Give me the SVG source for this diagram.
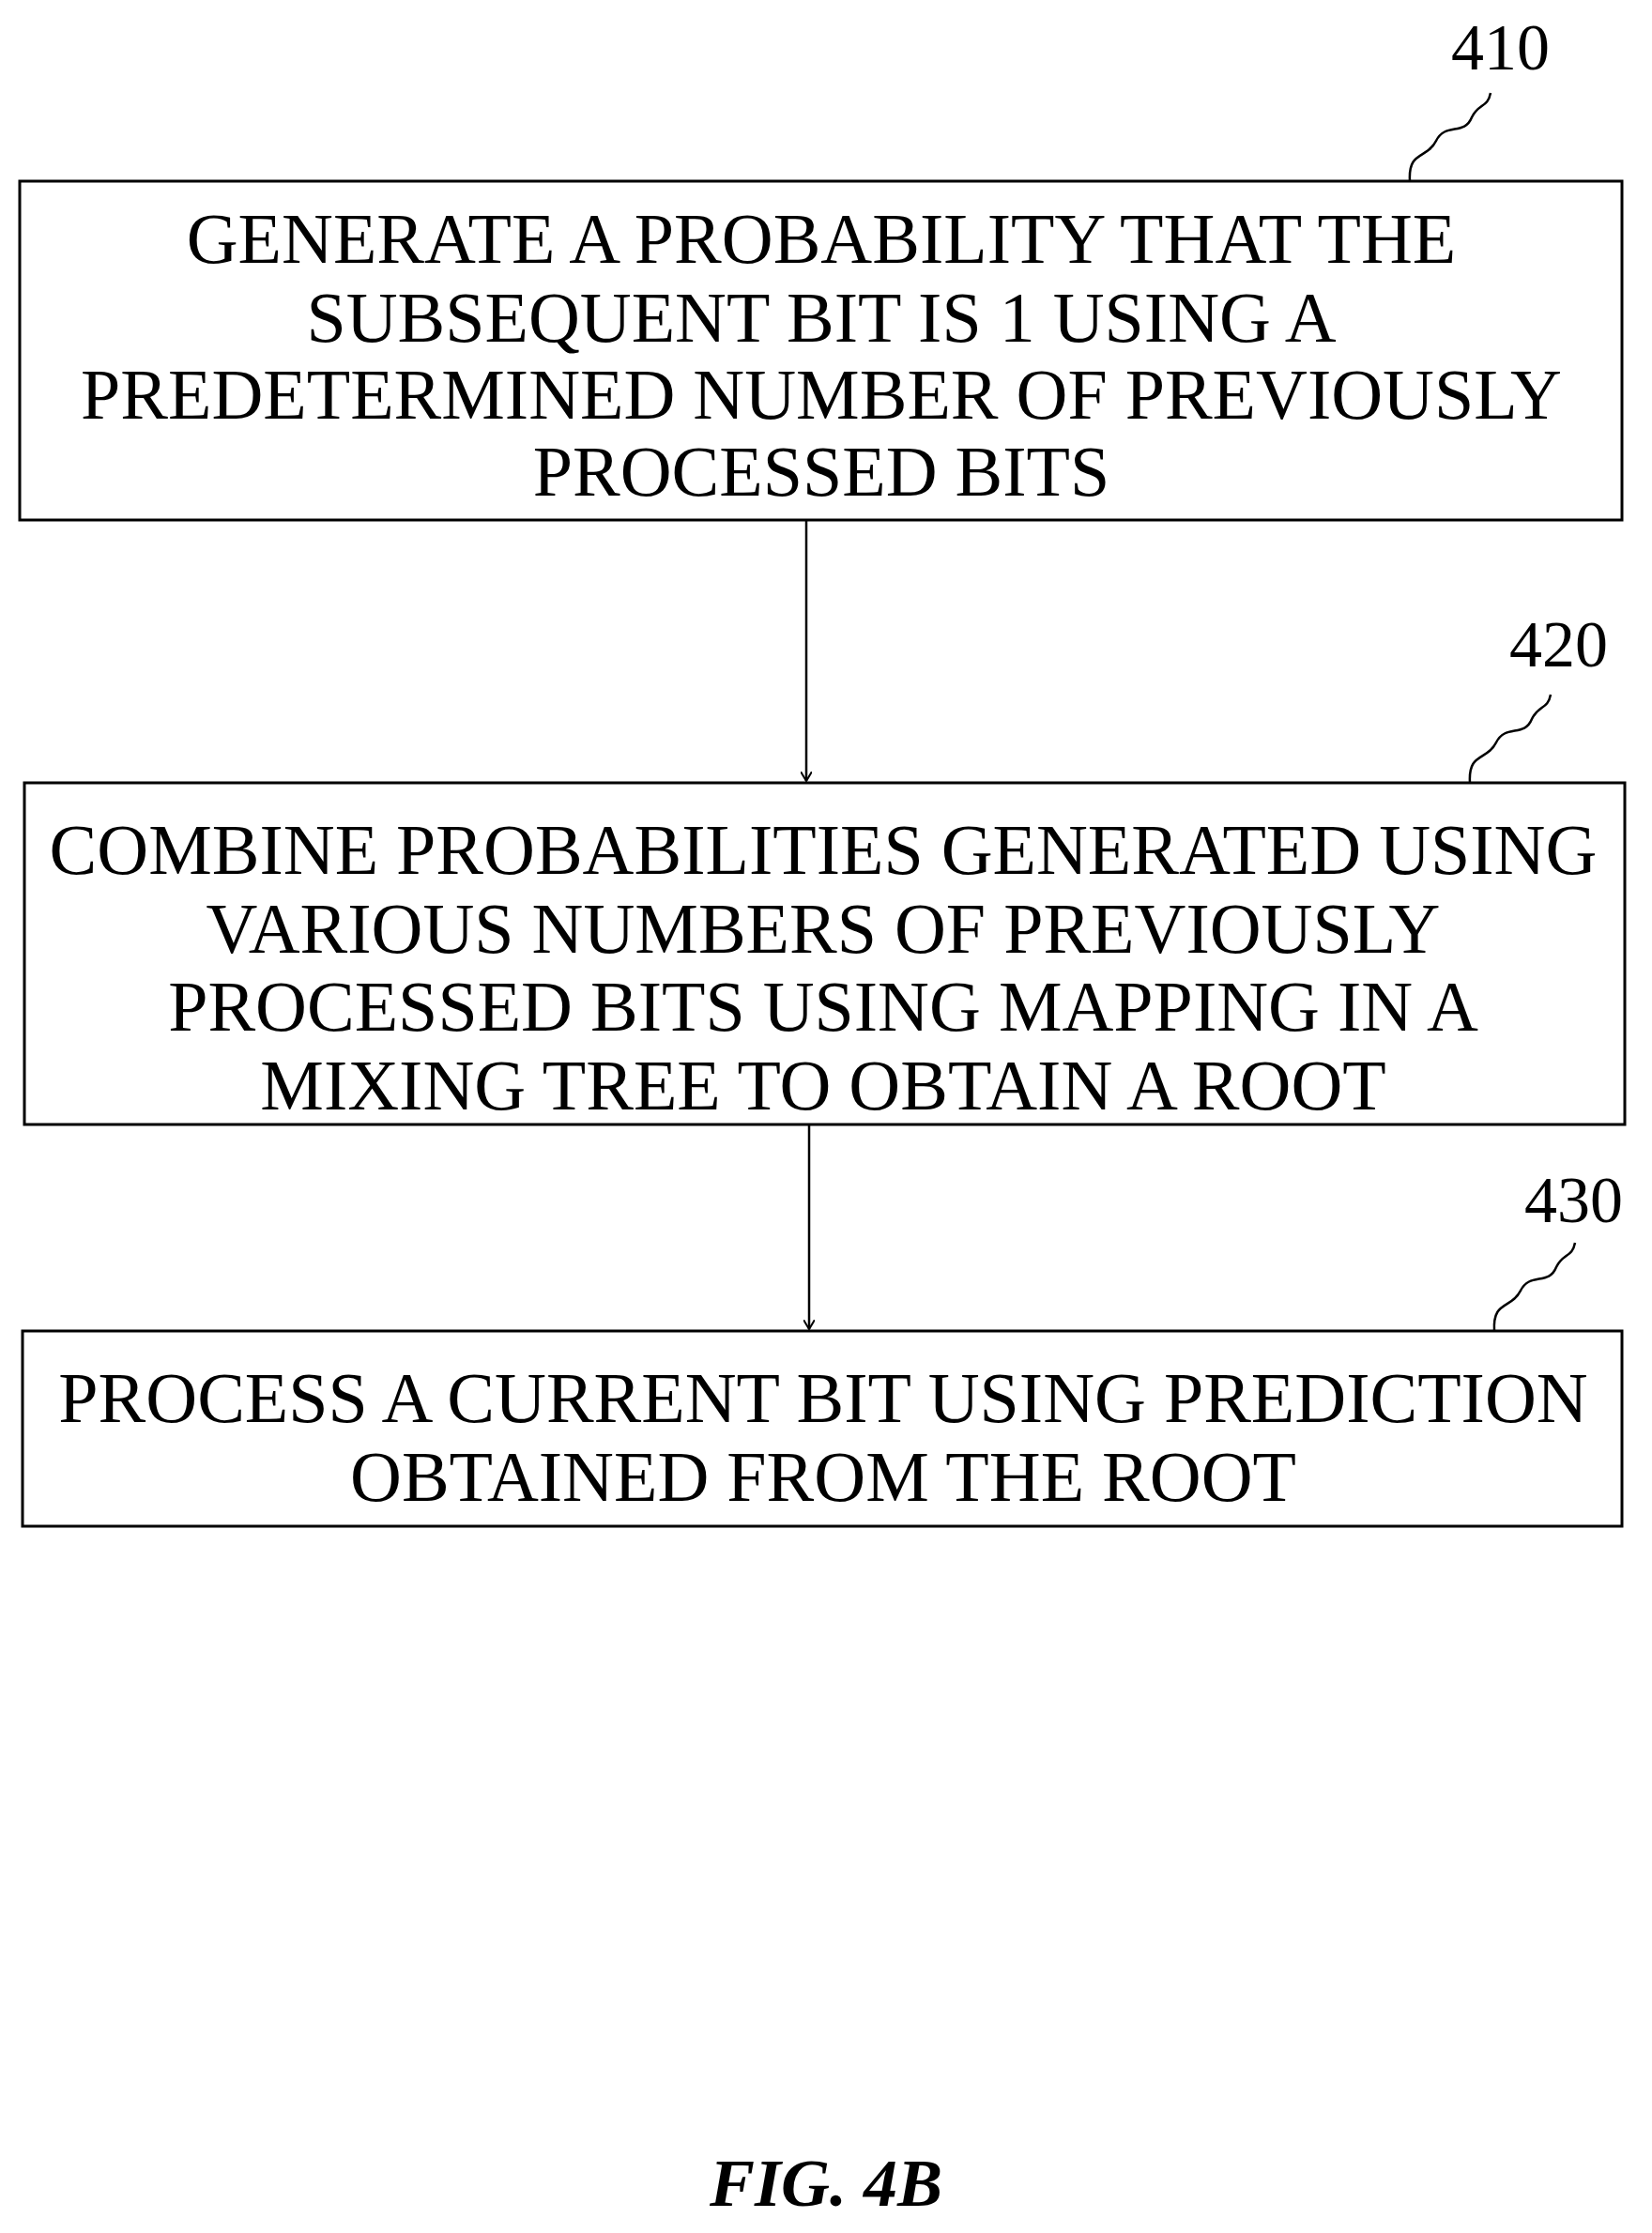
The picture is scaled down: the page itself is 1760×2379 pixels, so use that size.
<svg xmlns="http://www.w3.org/2000/svg" width="1760" height="2379" viewBox="0 0 1760 2379">
<defs>
<style>
.box{fill:none;stroke:#000;stroke-width:3}
.t{font-family:"Liberation Serif",serif;font-size:76px;text-anchor:middle;fill:#000}
.lbl{font-family:"Liberation Serif",serif;font-size:70px;fill:#000}
.c{stroke:#000;stroke-width:2.5;fill:none}
</style>
<marker id="ah" markerWidth="12" markerHeight="12" refX="10" refY="6" orient="auto" markerUnits="userSpaceOnUse">
<path d="M0,0 L10,6 L0,12" fill="none" stroke="#000" stroke-width="2"/>
</marker>
</defs>
<rect width="1760" height="2379" fill="#fff"/>
<g id="n410">
<rect class="box" x="21" y="193" width="1707" height="361"/>
<text class="t" x="875" y="280">GENERATE A PROBABILITY THAT THE</text>
<text class="t" x="875" y="364">SUBSEQUENT BIT IS 1 USING A</text>
<text class="t" x="875" y="446">PREDETERMINED NUMBER OF PREVIOUSLY</text>
<text class="t" x="875" y="528">PROCESSED BITS</text>
<text class="lbl" x="1546" y="74">410</text>
<path class="c" d="M1502,193 C1500,160 1520,170 1530,150 C1540,130 1560,145 1568,125 C1575,110 1585,115 1588,99"/>
</g>
<g id="n420">
<rect class="box" x="26" y="834" width="1705" height="364"/>
<text class="t" x="877" y="931">COMBINE PROBABILITIES GENERATED USING</text>
<text class="t" x="877" y="1015">VARIOUS NUMBERS OF PREVIOUSLY</text>
<text class="t" x="877" y="1098">PROCESSED BITS USING MAPPING IN A</text>
<text class="t" x="877" y="1182">MIXING TREE TO OBTAIN A ROOT</text>
<text class="lbl" x="1608" y="710">420</text>
<path class="c" d="M1566,834 C1564,801 1584,811 1594,791 C1604,771 1624,786 1632,766 C1639,751 1649,756 1652,740"/>
</g>
<g id="n430">
<rect class="box" x="24" y="1418" width="1704" height="208"/>
<text class="t" x="877" y="1515">PROCESS A CURRENT BIT USING PREDICTION</text>
<text class="t" x="877" y="1599">OBTAINED FROM THE ROOT</text>
<text class="lbl" x="1624" y="1302">430</text>
<path class="c" d="M1592,1418 C1590,1385 1610,1395 1620,1375 C1630,1355 1650,1370 1658,1350 C1665,1335 1675,1340 1678,1324"/>
</g>
<g id="connectors">
<line class="c" x1="859" y1="554" x2="859" y2="832" marker-end="url(#ah)"/>
<line class="c" x1="862" y1="1198" x2="862" y2="1416" marker-end="url(#ah)"/>
</g>
<text x="880" y="2350" style="font-family:'Liberation Serif',serif;font-size:72px;font-weight:bold;font-style:italic;text-anchor:middle">FIG. 4B</text>
</svg>
